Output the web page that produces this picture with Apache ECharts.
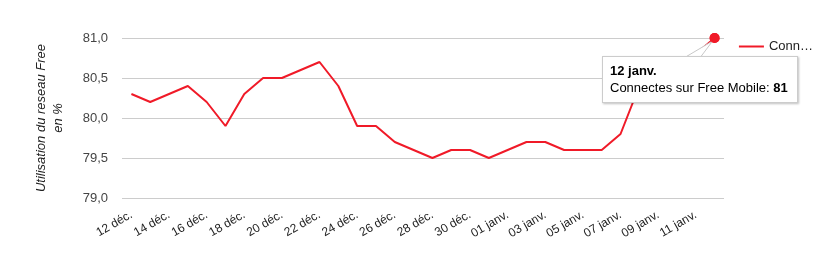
<!DOCTYPE html>
<html>
<head>
<meta charset="utf-8">
<script src="https://cdn.jsdelivr.net/npm/echarts@6/dist/echarts.min.js"></script>
<style>
html,body{margin:0;padding:0;background:#fff;}
#c{width:835px;height:275px;}
</style>
</head>
<body>
<div id="c"></div>
<script>
const categories = ['12 déc.','13 déc.','14 déc.','15 déc.','16 déc.','17 déc.','18 déc.','19 déc.','20 déc.','21 déc.','22 déc.','23 déc.','24 déc.','25 déc.','26 déc.','27 déc.','28 déc.','29 déc.','30 déc.','31 déc.','01 janv.','02 janv.','03 janv.','04 janv.','05 janv.','06 janv.','07 janv.','08 janv.','09 janv.','10 janv.','11 janv.','12 janv.'];
const values = [80.3,80.2,80.3,80.4,80.2,79.9,80.3,80.5,80.5,80.6,80.7,80.4,79.9,79.9,79.7,79.6,79.5,79.6,79.6,79.5,79.6,79.7,79.7,79.6,79.6,79.6,79.8,80.4,80.6,80.7,80.8,81];
const seriesName = 'Connectes sur Free Mobile';
const yTitle = 'Utilisation du reseau Free\nen %';
const yMin = 79, yMax = 81, yStep = 0.5;

const FONT = 'Arial, "Liberation Sans", sans-serif';
const RED = '#f01a28';
const chart = echarts.init(document.getElementById('c'), null, {renderer:'canvas'});
const lastIdx = values.length - 1;
const data = values.map((v,i) => i === lastIdx ? {value:v, symbol:'circle', symbolSize:10} : {value:v});

chart.setOption({
  animation:false,
  textStyle:{fontFamily:FONT},
  grid:{left:122, width:602, top:38, height:160},
  legend:{
    right:17, top:35, itemWidth:25, itemHeight:2, itemGap:6,
    icon:'rect',
    formatter:function(n){ return n.slice(0,4) + '…'; },
    textStyle:{fontSize:13, color:'#222', fontFamily:FONT},
    data:[seriesName]
  },
  tooltip:{
    trigger:'item',
    alwaysShowContent:true,
    triggerOn:'none',
    position:function(pt){ return [602, 56]; },
    backgroundColor:'#fff',
    borderColor:'#ccc',
    borderWidth:1,
    borderRadius:0,
    padding:[5,9,6,7],
    extraCssText:'box-shadow:1px 1px 2px rgba(0,0,0,0.25);',
    textStyle:{fontSize:13, color:'#000', fontFamily:FONT},
    formatter:function(p){
      const v = String(p.value).replace('.', ',');
      return '<div style="line-height:17px"><b>' + p.name + '</b><br>' + p.seriesName + ': <b>' + v + '</b></div>';
    }
  },
  xAxis:{
    type:'category',
    data:categories,
    boundaryGap:true,
    axisLine:{show:false},
    axisTick:{show:false},
    axisLabel:{rotate:30, interval:1, fontSize:12, color:'#222', margin:16, fontFamily:FONT},
    splitLine:{show:false}
  },
  yAxis:{
    type:'value',
    min:yMin, max:yMax, interval:yStep,
    name:yTitle,
    nameLocation:'middle',
    nameGap:55,
    nameRotate:90,
    nameTextStyle:{fontSize:13, fontStyle:'italic', color:'#222', align:'center', lineHeight:17, fontFamily:FONT},
    axisLine:{show:false},
    axisTick:{show:false},
    axisLabel:{fontSize:13, color:'#444', margin:14, fontFamily:FONT,
      formatter:function(v){ return v.toFixed(1).replace('.', ','); }},
    splitLine:{lineStyle:{color:'#cccccc', width:1}}
  },
  series:[{
    name:seriesName,
    type:'line',
    data:data,
    symbol:'none',
    z:2,
    lineStyle:{color:RED, width:2},
    itemStyle:{color:RED},
    color:RED
  }]
});

// tooltip callout wedge pointing at the highlighted point
const p = chart.convertToPixel({seriesIndex:0}, [lastIdx, values[lastIdx]]);
chart.setOption({
  graphic:[{
    type:'polygon',
    z:3,
    shape:{points:[[p[0]-29, 57],[p[0]-14, 57],[p[0]-2, p[1]+3]]},
    style:{fill:'#fff', stroke:'#c8c8c8', lineWidth:1}
  },{
    type:'circle',
    z:4,
    shape:{cx:p[0], cy:p[1], r:5},
    style:{fill:RED}
  }]
});
chart.dispatchAction({type:'showTip', seriesIndex:0, dataIndex:lastIdx});
</script>
</body>
</html>
